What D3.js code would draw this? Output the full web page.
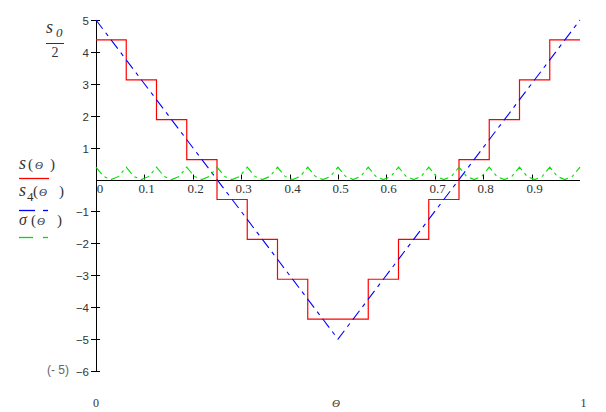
<!DOCTYPE html>
<html><head><meta charset="utf-8">
<script src="https://cdn.jsdelivr.net/npm/d3@7"></script>
<style>html,body{margin:0;padding:0;background:#fff;}svg{display:block;}</style>
</head><body>
<script>
// ---- data ----
const xTicks = [0.1,0.2,0.3,0.4,0.5,0.6,0.7,0.8,0.9];
const yTicks = [5,4,3,2,1,-1,-2,-3,-4,-5,-6];
// staircase s(Θ): step edges and levels
const stepEdges = [0,0.0625,0.125,0.1875,0.25,0.3125,0.375,0.4375,0.5,0.5625,0.625,0.6875,0.75,0.8125,0.875,0.9375,1];
const stepLevels = [4.375,3.125,1.875,0.625,-0.625,-1.875,-3.125,-4.375,-4.375,-3.125,-1.875,-0.625,0.625,1.875,3.125,4.375,4.375];
// s4(Θ): triangle
const s4Theta = [0,0.5,1];
const s4Vals = [5,-5,5];
// σ(Θ): sampled every 1/64
const sigmaVals = [
 0.39,0.098,0,0.098, 0.39,0.098,0,0.098, 0.39,0.098,0,0.098, 0.39,0.098,0,0.098,
 0.39,0.098,0,0.098, 0.39,0.098,0,0.098, 0.39,0.098,0,0.098, 0.39,0.098,0,0.098,
 0.39,0.098,0,0.098, 0.39,0.098,0,0.098, 0.39,0.098,0,0.098, 0.39,0.098,0,0.098,
 0.39,0.098,0,0.098, 0.39,0.098,0,0.098, 0.39,0.098,0,0.098, 0.39,0.098,0,0.098,
 0.39];

const SERIF="Liberation Serif", SANS="Liberation Sans";
const W=606,H=412;
const svg=d3.select("body").append("svg").attr("width",W).attr("height",H)
  .style("font-family","'Liberation Serif'");
const x=d3.scaleLinear().domain([0,1]).range([96,580]);
const y=d3.scaleLinear().domain([-6,5]).range([371,20]);

function txt(g,fam,size,xx,yy,s,opt){
  opt=opt||{};
  const t=g.append("text").attr("x",xx).attr("y",yy)
    .attr("font-family",fam).style("font-family","'"+fam+"'")
    .style("font-size",size+"px").attr("fill",opt.fill||"#333").text(s);
  if(opt.anchor) t.attr("text-anchor",opt.anchor);
  if(opt.italic) t.style("font-style","italic");
  if(opt.dy) t.attr("dy",opt.dy);
  return t;
}

// axes
svg.append("line").attr("x1",x(0)+0.5).attr("x2",x(0)+0.5).attr("y1",y(5)).attr("y2",y(-6)).attr("stroke","#000");
svg.append("line").attr("x1",x(0)).attr("x2",x(1)).attr("y1",Math.round(y(0))+0.5).attr("y2",Math.round(y(0))+0.5).attr("stroke","#000");

// y ticks
const yt=svg.append("g");
yTicks.forEach(v=>{
  const yy=Math.round(y(v))+0.5;
  yt.append("line").attr("x1",x(0)-5).attr("x2",x(0)+4).attr("y1",yy).attr("y2",yy).attr("stroke","#000");
  txt(yt,SANS,11.5,x(0)-7,yy,v<0?"\u2212"+(-v):String(v),{anchor:"end",dy:"0.36em"});
});
// x ticks
const xt=svg.append("g");
xTicks.forEach(v=>{
  const xx=Math.round(x(v))+0.5;
  xt.append("line").attr("x1",xx).attr("x2",xx).attr("y1",y(0)-5).attr("y2",y(0)).attr("stroke","#000");
  txt(xt,SERIF,13,xx+2,193,String(v),{anchor:"middle"});
});
txt(svg,SERIF,13,x(0)+4,193,"0",{anchor:"middle"});

// series
const stepLine=d3.line().x((d,i)=>x(stepEdges[i])).y(d=>y(d)).curve(d3.curveStepAfter);
svg.append("path").attr("d",stepLine(stepLevels)).attr("fill","none").attr("stroke","#f00").attr("stroke-width",1.2);

const s4Line=d3.line().x((d,i)=>x(s4Theta[i])).y(d=>y(d));
svg.append("path").attr("d",s4Line(s4Vals)).attr("fill","none").attr("stroke","#00f").attr("stroke-width",1.1).attr("stroke-dasharray","11,5,4,5");

const sigLine=d3.line().x((d,i)=>x(i/(sigmaVals.length-1))).y(d=>y(d));
svg.append("path").attr("d",sigLine(sigmaVals)).attr("fill","none").attr("stroke","#0d0").attr("stroke-width",1.1).attr("stroke-dasharray","9,4,3,4");

// top-left label s0/2
txt(svg,SERIF,18,46,33,"s",{italic:1});
txt(svg,SERIF,13,56,37,"0",{italic:1});
svg.append("line").attr("x1",46).attr("x2",64).attr("y1",43.5).attr("y2",43.5).attr("stroke","#333");
txt(svg,SERIF,14,51.5,57,"2");

// legend
function legText(yb, parts){
  const g=svg.append("g");
  parts.forEach(p=>txt(g,SERIF,p[2],p[0],yb+(p[3]||0),p[1],{italic:p[4]}));
}
legText(169,[[19,"s",18,0,1],[28,"(",15,0,0],[35,"\u0398",11,-0.5,1],[50,")",15,0,0]]);
svg.append("line").attr("x1",19).attr("x2",49).attr("y1",178.5).attr("y2",178.5).attr("stroke","#f00").attr("stroke-width",1.3);
legText(196,[[19,"s",18,0,1],[27,"4",13,5,0],[33,"(",15,0,0],[39,"\u0398",11,-0.5,1],[59,")",15,0,0]]);
svg.append("line").attr("x1",19).attr("x2",35).attr("y1",210.5).attr("y2",210.5).attr("stroke","#00f").attr("stroke-width",1.3);
svg.append("line").attr("x1",43).attr("x2",48).attr("y1",210.5).attr("y2",210.5).attr("stroke","#00f").attr("stroke-width",1.3);
legText(225,[[19,"\u03c3",16,0,1],[31,"(",15,0,0],[37,"\u0398",11,-0.5,1],[57,")",15,0,0]]);
svg.append("line").attr("x1",19).attr("x2",33).attr("y1",237.5).attr("y2",237.5).attr("stroke","#0d0").attr("stroke-width",1.3);
svg.append("line").attr("x1",43).attr("x2",48).attr("y1",237.5).attr("y2",237.5).attr("stroke","#0d0").attr("stroke-width",1.3);

// lower limit label
txt(svg,SANS,12,47,374,"(- 5)",{fill:"#666"});

// bottom labels
txt(svg,SERIF,12,96,407,"0",{anchor:"middle"});
txt(svg,SERIF,11,336,407,"\u0398",{anchor:"middle",italic:1});
txt(svg,SERIF,12,583.5,407,"1",{anchor:"middle"});
</script>
</body></html>
